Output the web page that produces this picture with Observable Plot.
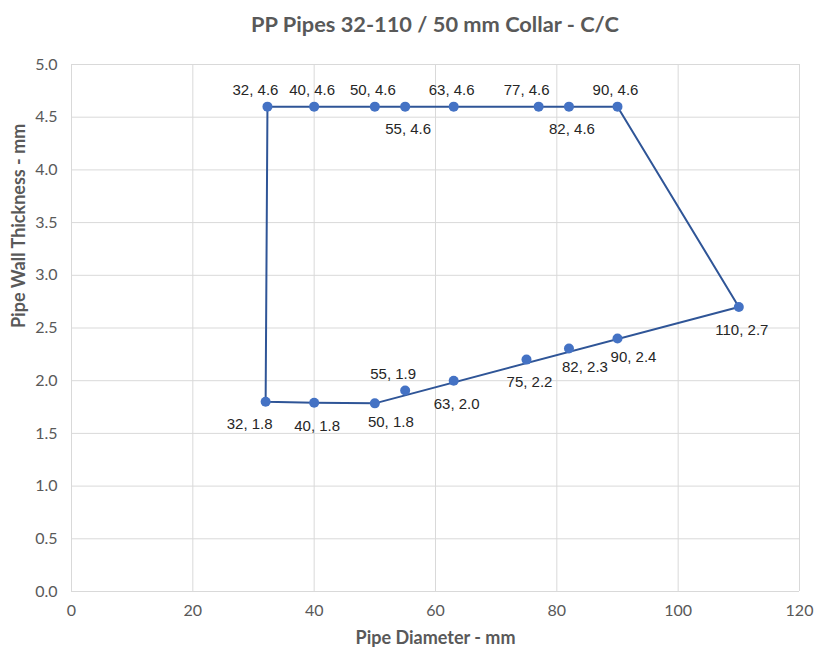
<!DOCTYPE html>
<html>
<head>
<meta charset="utf-8">
<script src="https://cdn.jsdelivr.net/npm/d3@7"></script>
<script src="https://cdn.jsdelivr.net/npm/@observablehq/plot@0.6"></script>
<style>
  html, body { margin: 0; padding: 0; background: #fff; }
  #wrap { width: 816px; height: 652px; position: relative; }
  #title { box-sizing: border-box; width: 816px; padding-left: 54px; height: 48px; line-height: 48px; text-align: center; font-family: Lato, "Open Sans", sans-serif; font-weight: bold; font-size: 21.8px; color: #595959; }
</style>
</head>
<body>
<div id="wrap">
  <div id="title">PP Pipes 32-110 / 50 mm Collar - C/C</div>
  <div id="chart"></div>
</div>
<script>
// Data points (diameter mm, wall thickness mm)
const diameters = [32.3, 40, 50, 55, 63, 77, 82, 90, 110, 90, 82, 75, 63, 55, 50, 40, 32];
const thickness = [4.6, 4.6, 4.6, 4.6, 4.6, 4.6, 4.6, 4.6, 2.7, 2.4, 2.305, 2.2, 2.0, 1.907, 1.785, 1.79, 1.8];
const labels = ["32, 4.6", "40, 4.6", "50, 4.6", "55, 4.6", "63, 4.6", "77, 4.6", "82, 4.6", "90, 4.6",
                "110, 2.7", "90, 2.4", "82, 2.3", "75, 2.2", "63, 2.0", "55, 1.9", "50, 1.8", "40, 1.8", "32, 1.8"];
const placements = ["above-left", "above", "above", "below", "above", "above-left", "below", "above",
                    "below", "below-right", "below-right", "below", "below", "above-left", "below-right", "below", "below-left"];

// Connecting line (outline series)
const lineDiameters = [32, 32.3, 40, 50, 55, 63, 77, 82, 90, 110, 50, 40, 32];
const lineThickness = [1.8, 4.6, 4.6, 4.6, 4.6, 4.6, 4.6, 4.6, 4.6, 2.7, 1.785, 1.79, 1.8];

const xTicks = [0, 20, 40, 60, 80, 100, 120];
const yTicks = [0, 0.5, 1.0, 1.5, 2.0, 2.5, 3.0, 3.5, 4.0, 4.5, 5.0];

const points = diameters.map((d, i) => ({x: d, y: thickness[i], label: labels[i], place: placements[i]}));
const line = lineDiameters.map((d, i) => ({x: d, y: lineThickness[i]}));

const offsets = {
  "above": [-2, -16],
  "above-left": [-12, -16],
  "below": [3, 23],
  "below-right": [16, 19],
  "below-left": [-16, 22]
};
const labelMarks = Object.entries(offsets).map(([name, [dx, dy]]) =>
  Plot.text(points.filter(p => p.place === name), {
    x: "x", y: "y", text: "label", dx, dy,
    fontSize: 15, fill: "#262626", fontFamily: "'Liberation Sans', Arial, sans-serif",
    textAnchor: "middle", lineAnchor: "middle"
  })
);

const chart = Plot.plot({
  width: 816,
  height: 604,
  marginTop: 16,
  marginBottom: 61,
  marginLeft: 71,
  marginRight: 17,
  style: {fontFamily: "Lato, 'Open Sans', sans-serif", background: "#fff"},
  x: {domain: [0, 120], ticks: xTicks, label: null},
  y: {domain: [0, 5], ticks: yTicks, label: null},
  marks: [
    Plot.gridX(xTicks, {stroke: "#d9d9d9", strokeOpacity: 1}),
    Plot.gridY(yTicks, {stroke: "#d9d9d9", strokeOpacity: 1}),
    Plot.axisX(xTicks, {tickSize: 0, tickPadding: 13, fontSize: 16, fill: "#595959"}),
    Plot.axisY(yTicks, {tickSize: 0, tickPadding: 14, fontSize: 16, fill: "#595959", tickFormat: d => d.toFixed(1)}),
    Plot.text(["Pipe Diameter - mm"], {frameAnchor: "bottom", dy: 52, fontSize: 18, fontWeight: "bold", fill: "#595959"}),
    Plot.text(["Pipe Wall Thickness - mm"], {frameAnchor: "left", dx: -52, rotate: -90, fontSize: 18, fontWeight: "bold", fill: "#595959"}),
    Plot.line(line, {x: "x", y: "y", stroke: "#2f5597", strokeWidth: 2, curve: "linear"}),
    Plot.dot(points, {x: "x", y: "y", r: 5, fill: "#4472c4", stroke: "none"}),
    ...labelMarks
  ]
});
document.getElementById("chart").appendChild(chart);
</script>
</body>
</html>
